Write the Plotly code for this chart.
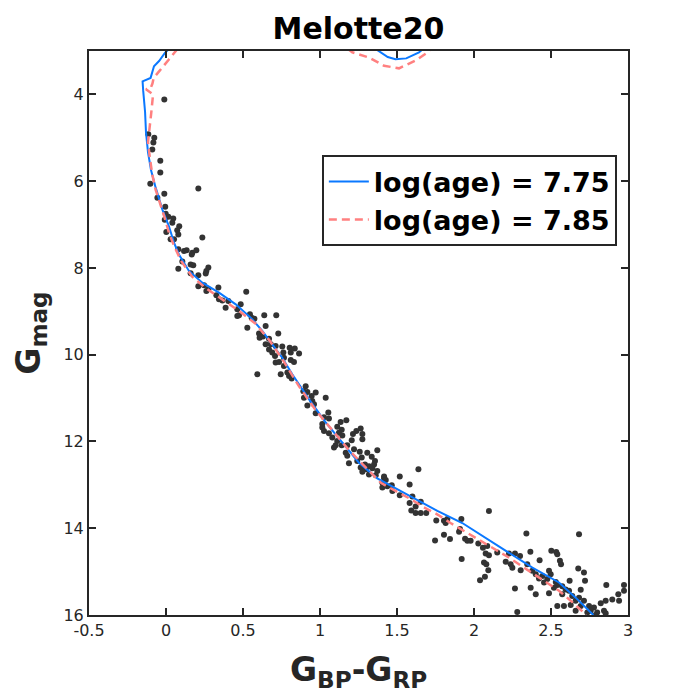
import plotly.graph_objects as go

# ---- observed stars (BP-RP colour, G magnitude) ----
bp_rp = [
    -0.011, -0.115, -0.076, -0.082, -0.089, -0.037, -0.037, -0.102, 0.21, -0.011, -0.056, -0.005,
    -0.002, 0.015, 0.047, -0.008, 0.041, 0.086, 0.073, 0.002, 0.08, 0.236, 0.03, 0.052,
    0.08, 0.117, 0.134, 0.171, 0.197, 0.167, 0.106, 0.16, 0.177, 0.08, 0.275, 0.262, 0.258, 0.21,
    0.16, 0.21, 0.247, 0.34, 0.262, 0.275, 0.521, 0.327, 0.344, 0.366, 0.387, 0.405, 0.485, 0.463,
    0.474, 0.463, 0.545, 0.556, 0.574, 0.528, 0.638, 0.716, 0.647, 0.729, 0.604, 0.608, 0.63, 0.669,
    0.647, 0.68, 0.712, 0.755, 0.803, 0.836, 0.669, 0.69, 0.762, 0.81, 0.864, 0.708, 0.766, 0.81,
    0.831, 0.712, 0.734, 0.766, 0.593,
    0.745, 0.788, 0.799, 0.816, 0.907, 0.892, 0.918, 0.972, 1.037, 0.946, 0.896, 0.95, 0.961, 0.918,
    0.972, 1.054, 1.026, 1.058, 1.171, 1.134, 1.015, 1.015, 1.112, 1.141, 1.264, 1.236, 1.026, 1.058,
    1.123, 1.214, 1.275, 1.145, 1.08, 1.275, 1.112, 1.206, 1.177, 1.141, 1.091, 1.102, 1.221, 1.258,
    1.307, 1.372, 1.167, 1.177, 1.271, 1.336, 1.242, 1.357, 1.188, 1.292, 1.318, 1.351, 1.264, 1.297,
    1.34, 1.372, 1.275, 1.318, 1.362, 1.416, 1.518,
    1.639, 1.416, 1.427, 1.405, 1.466, 1.437, 1.405, 1.47, 1.518, 1.582, 1.6, 1.582, 1.654, 1.621,
    1.593, 1.621, 1.654, 1.69, 1.755, 1.805, 1.827, 1.816, 1.918, 1.909, 1.903, 1.805, 1.844, 1.747,
    1.942, 1.957, 1.978, 2.028, 2.058, 2.086, 2.097, 2.076, 2.097, 2.065, 2.08, 2.151, 2.093, 2.071,
    2.039, 1.92, 2.206, 2.227,
    2.34, 2.682, 2.366, 2.502, 2.534, 2.541, 2.266, 2.299, 2.238, 2.249, 2.303, 2.426, 2.558, 2.565,
    2.677, 2.714, 2.346, 2.379, 2.401, 2.444, 2.487, 2.498, 2.422, 2.476, 2.455, 2.531, 2.541, 2.621,
    2.721, 2.519, 2.573, 2.595, 2.617, 2.693, 2.859, 2.266, 2.368, 2.401, 2.487, 2.573, 2.638, 2.682,
    2.66, 2.714, 2.541, 2.584, 2.628, 2.693, 2.747, 2.779, 2.823, 2.855, 2.898, 2.937, 2.942, 2.974,
    2.974, 2.281, 2.66, 2.758, 2.8, 2.844, 2.855, 2.79, 2.736,
]
g_mag = [
    4.12, 4.92, 5.00, 5.11, 5.27, 5.53, 5.80, 6.06, 6.17, 6.29, 6.38, 6.59,
    6.75, 6.82, 6.86, 6.89, 6.96, 7.04, 7.13, 7.17, 7.23, 7.30, 7.34, 7.34,
    7.57, 7.61, 7.59, 7.65, 7.59, 7.69, 7.85, 7.92, 7.94, 8.02, 7.99, 8.07, 8.13, 8.17,
    8.12, 8.42, 8.40, 8.45, 8.53, 8.49, 8.55, 8.63, 8.72, 8.75, 8.92, 8.76, 8.84, 8.95,
    9.09, 9.11, 9.07, 9.15, 9.17, 9.38, 9.09, 9.09, 9.34, 9.51, 9.51, 9.61, 9.58, 9.63,
    9.76, 9.76, 9.80, 9.81, 9.84, 9.86, 9.88, 9.95, 9.95, 9.95, 9.97, 10.03, 10.07, 10.12,
    10.17, 10.18, 10.17, 10.26, 10.45,
    10.45, 10.41, 10.49, 10.55, 10.73, 10.84, 10.86, 10.87, 10.99, 10.95, 10.99, 11.07, 11.14, 11.17,
    11.35, 11.33, 11.44, 11.47, 11.51, 11.55, 11.60, 11.68, 11.66, 11.73, 11.70, 11.76, 11.76, 11.81,
    11.80, 11.83, 11.83, 11.86, 11.91, 11.95, 11.99, 11.97, 12.09, 12.09, 12.14, 12.09, 12.18, 12.24,
    12.26, 12.20, 12.26, 12.33, 12.37, 12.35, 12.45, 12.45, 12.50, 12.53, 12.57, 12.53, 12.60, 12.64,
    12.62, 12.68, 12.70, 12.76, 12.78, 12.81, 12.81,
    12.64, 12.85, 12.89, 12.95, 13.01, 13.03, 13.06, 13.14, 13.24, 12.99, 13.27, 13.42, 13.39, 13.50,
    13.59, 13.65, 13.65, 13.65, 13.82, 13.83, 13.79, 13.88, 13.79, 14.02, 14.08, 14.15, 14.25, 14.28,
    14.24, 14.29, 14.29, 14.35, 14.45, 14.41, 13.60, 14.58, 14.62, 14.79, 14.83, 14.56, 14.97, 15.12,
    15.20, 14.71, 14.77, 14.58,
    14.12, 14.14, 14.54, 14.52, 14.55, 14.60, 14.58, 14.64, 14.83, 14.91, 14.97, 14.74, 14.75, 14.83,
    14.93, 15.02, 14.83, 14.98, 15.06, 15.10, 14.98, 15.06, 15.16, 15.17, 15.25, 15.24, 15.31, 15.21,
    15.21, 15.37, 15.34, 15.41, 15.44, 15.42, 15.31, 15.39, 15.37, 15.52, 15.50, 15.52, 15.56, 15.60,
    15.67, 15.67, 15.79, 15.79, 15.77, 15.79, 15.79, 15.83, 15.73, 15.67, 15.64, 15.52, 15.67, 15.44,
    15.31, 15.93, 15.90, 15.90, 15.94, 15.90, 15.96, 16.00, 15.94,
]

# ---- isochrone log(age)=7.75 (None separates the two visible pieces) ----
iso775_color = [
    0.02, -0.006, -0.045, -0.078, -0.10, -0.152, -0.148, -0.143, -0.136, -0.13, -0.117, -0.097,
    -0.067, -0.024, 0.019, 0.052, 0.084, 0.149, 0.236, 0.344, 0.453, 0.56, 0.625, 0.69, 0.755,
    0.82, 0.929, 1.037, 1.145, 1.253, 1.372, 1.6, 1.762, 1.924, 2.076, 2.227, 2.379, 2.552, 2.66,
    2.775, None,
    1.36, 1.394, 1.44, 1.49, 1.56, 1.643, 1.67,
]
iso775_mag = [
    2.95, 3.04, 3.23, 3.35, 3.62, 3.70, 3.92, 4.10, 4.40, 4.87, 5.33, 5.75,
    6.15, 6.65, 7.04, 7.42, 7.69, 8.07, 8.34, 8.57, 8.84, 9.18, 9.45, 9.76, 10.07,
    10.45, 11.03, 11.56, 12.03, 12.49, 12.85, 13.29, 13.60, 13.88, 14.23, 14.56, 14.91, 15.25, 15.60,
    16.00, None,
    2.95, 3.03, 3.14, 3.19, 3.17, 3.03, 2.95,
]

# ---- isochrone log(age)=7.85 ----
iso785_color = [
    0.075, 0.052, 0.02, -0.045, -0.08, -0.088, -0.10, -0.13, -0.084, -0.095, -0.108, -0.117,
    -0.104, -0.089, -0.067, -0.039, -0.009, 0.019, 0.052, 0.10, 0.17, 0.26, 0.37, 0.47, 0.58,
    0.67, 0.755, 0.864, 0.972, 1.08, 1.188, 1.297, 1.398, 1.49, 1.589, 1.675, 1.766, 1.848, 1.94,
    2.026, 2.123, 2.21, 2.292, 2.379, 2.466, 2.552, 2.628, 2.703, 2.729, None,
    1.18, 1.21, 1.318, 1.416, 1.513, 1.62, 1.70, 1.72,
]
iso785_mag = [
    2.95, 3.06, 3.19, 3.47, 3.62, 3.75, 3.86, 3.88, 4.00, 4.40, 4.75, 5.10,
    5.48, 5.85, 6.20, 6.50, 6.84, 7.19, 7.49, 7.85, 8.20, 8.47, 8.74, 8.98, 9.28,
    9.66, 10.10, 10.73, 11.28, 11.74, 12.20, 12.60, 12.96, 13.14, 13.33, 13.52, 13.69, 13.88, 14.07,
    14.25, 14.46, 14.64, 14.83, 15.04, 15.25, 15.44, 15.67, 15.90, 16.00, None,
    2.95, 3.03, 3.15, 3.34, 3.40, 3.22, 3.03, 2.95,
]

x_ticks = [-0.5, 0, 0.5, 1, 1.5, 2, 2.5, 3]
x_tick_labels = ["-0.5", "0", "0.5", "1", "1.5", "2", "2.5", "3"]
y_ticks = [4, 6, 8, 10, 12, 14, 16]
y_tick_labels = ["4", "6", "8", "10", "12", "14", "16"]
legend_names = ["log(age) = 7.75", "log(age) = 7.85"]

AX = "#262626"
FONT = "DejaVu Sans"

fig = go.Figure()
fig.add_trace(go.Scatter(
    x=bp_rp, y=g_mag, mode="markers", showlegend=False,
    marker=dict(size=6, color="#333333", line=dict(width=0)),
))
fig.add_trace(go.Scatter(
    x=iso775_color, y=iso775_mag, mode="lines", name=legend_names[0],
    line=dict(color="#0A78FF", width=2), connectgaps=False,
))
fig.add_trace(go.Scatter(
    x=iso785_color, y=iso785_mag, mode="lines", name=legend_names[1],
    line=dict(color="#FF8080", width=2.5, dash="8px,5px"), connectgaps=False,
))

axis_common = dict(
    showline=True, linecolor=AX, linewidth=2, mirror="ticks",
    ticks="inside", ticklen=7, tickwidth=2, tickcolor=AX,
    showgrid=False, zeroline=False,
    tickfont=dict(family=FONT, size=16, color=AX),
)
fig.update_xaxes(range=[-0.5, 3], tickvals=x_ticks, ticktext=x_tick_labels, **axis_common)
fig.update_yaxes(range=[16, 3], tickvals=y_ticks, ticktext=y_tick_labels, **axis_common)

fig.update_layout(
    width=694, height=694,
    margin=dict(l=89, r=66, t=51, b=79),
    paper_bgcolor="white", plot_bgcolor="white",
    title=dict(text="Melotte20", x=0.5, xref="paper", xanchor="center",
               y=1 - 28 / 694, yref="container", yanchor="middle",
               font=dict(family=FONT, size=30, color="black", weight="bold")),
    legend=dict(x=0.432, y=0.815, xanchor="left", yanchor="top",
                bgcolor="white", bordercolor=AX, borderwidth=2,
                font=dict(family=FONT, size=27, color="black", weight="bold"),
                itemwidth=40, tracegroupgap=0),
    annotations=[
        dict(text="G<sub>BP</sub>-G<sub>RP</sub>", xref="paper", yref="paper",
             x=0.5, y=-0.058, xanchor="center", yanchor="top", showarrow=False,
             font=dict(family=FONT, size=33, color=AX, weight="bold")),
        dict(text="G<sub>mag</sub>", xref="paper", yref="paper",
             x=-0.11, y=0.5, xanchor="center", yanchor="middle", showarrow=False,
             textangle=-90,
             font=dict(family=FONT, size=33, color=AX, weight="bold")),
    ],
)

fig.write_html("out.html")
